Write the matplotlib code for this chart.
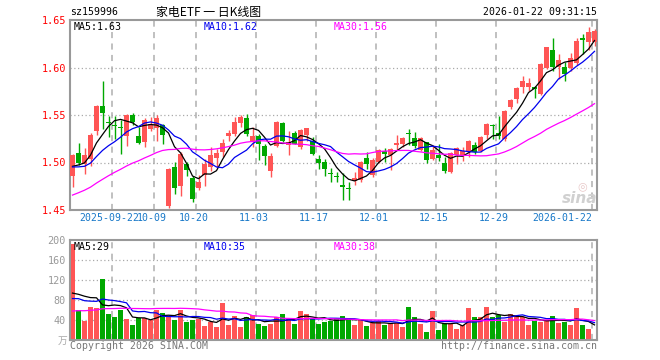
import numpy as np
import pandas as pd
import matplotlib
matplotlib.use("Agg")
import matplotlib.pyplot as plt
from matplotlib.transforms import blended_transform_factory

# ---------------- data ----------------
opens = [1.486, 1.510, 1.498, 1.504, 1.533, 1.559, 1.543, 1.539, 1.537, 1.528,
         1.550, 1.528, 1.522, 1.535, 1.536, 1.539, 1.454, 1.495, 1.475, 1.498,
         1.484, 1.473, 1.487, 1.495, 1.505, 1.511, 1.528, 1.530, 1.542, 1.547,
         1.522, 1.528, 1.517, 1.491, 1.517, 1.542, 1.518, 1.531, 1.516, 1.529,
         1.523, 1.504, 1.500, 1.489, 1.486, 1.476, 1.473, 1.481, 1.482, 1.505,
         1.487, 1.501, 1.512, 1.508, 1.518, 1.519, 1.531, 1.526, 1.513, 1.522,
         1.504, 1.508, 1.500, 1.490, 1.508, 1.508, 1.512, 1.518, 1.512, 1.529,
         1.540, 1.531, 1.525, 1.558, 1.567, 1.579, 1.580, 1.580, 1.572, 1.600,
         1.618, 1.601, 1.600, 1.600, 1.605, 1.631, 1.627, 1.627]
highs = [1.509, 1.521, 1.515, 1.531, 1.561, 1.586, 1.549, 1.549, 1.545, 1.551,
         1.552, 1.537, 1.547, 1.548, 1.550, 1.541, 1.494, 1.501, 1.511, 1.501,
         1.486, 1.487, 1.504, 1.516, 1.514, 1.525, 1.534, 1.548, 1.550, 1.551,
         1.537, 1.530, 1.520, 1.510, 1.544, 1.543, 1.533, 1.533, 1.535, 1.536,
         1.527, 1.508, 1.504, 1.494, 1.490, 1.489, 1.479, 1.490, 1.502, 1.511,
         1.505, 1.514, 1.515, 1.515, 1.529, 1.527, 1.535, 1.532, 1.527, 1.522,
         1.518, 1.519, 1.506, 1.511, 1.516, 1.516, 1.524, 1.522, 1.528, 1.542,
         1.541, 1.549, 1.555, 1.567, 1.579, 1.591, 1.589, 1.581, 1.605, 1.622,
         1.631, 1.614, 1.606, 1.615, 1.631, 1.635, 1.643, 1.641]
lows = [1.474, 1.497, 1.488, 1.496, 1.529, 1.535, 1.527, 1.525, 1.509, 1.517,
        1.540, 1.519, 1.516, 1.533, 1.523, 1.519, 1.452, 1.467, 1.465, 1.486,
        1.458, 1.471, 1.475, 1.491, 1.495, 1.506, 1.523, 1.528, 1.537, 1.528,
        1.516, 1.503, 1.497, 1.485, 1.516, 1.522, 1.508, 1.519, 1.514, 1.523,
        1.508, 1.493, 1.486, 1.479, 1.479, 1.461, 1.461, 1.476, 1.479, 1.493,
        1.485, 1.499, 1.501, 1.492, 1.513, 1.516, 1.518, 1.515, 1.512, 1.500,
        1.503, 1.502, 1.489, 1.489, 1.498, 1.502, 1.506, 1.509, 1.511, 1.525,
        1.525, 1.525, 1.523, 1.556, 1.563, 1.573, 1.575, 1.568, 1.571, 1.598,
        1.596, 1.588, 1.586, 1.596, 1.603, 1.614, 1.618, 1.623]
closes = [1.508, 1.499, 1.508, 1.529, 1.559, 1.552, 1.542, 1.538, 1.536, 1.550,
          1.543, 1.521, 1.545, 1.541, 1.547, 1.529, 1.493, 1.473, 1.509, 1.492,
          1.462, 1.479, 1.498, 1.508, 1.510, 1.521, 1.531, 1.543, 1.548, 1.530,
          1.528, 1.520, 1.507, 1.507, 1.543, 1.523, 1.522, 1.520, 1.534, 1.536,
          1.509, 1.500, 1.493, 1.488, 1.485, 1.474, 1.472, 1.484, 1.501, 1.498,
          1.503, 1.513, 1.509, 1.514, 1.521, 1.526, 1.530, 1.517, 1.526, 1.503,
          1.513, 1.505, 1.491, 1.510, 1.515, 1.512, 1.523, 1.511, 1.527, 1.541,
          1.538, 1.528, 1.554, 1.566, 1.578, 1.586, 1.584, 1.577, 1.604, 1.622,
          1.601, 1.608, 1.593, 1.610, 1.628, 1.629, 1.637, 1.638]
volumes = [193, 60, 39, 66, 64, 122, 52, 46, 60, 42,
           30, 44, 45, 41, 60, 54, 48, 41, 60, 37,
           40, 43, 29, 37, 27, 75, 30, 48, 26, 46,
           50, 33, 28, 32, 46, 52, 44, 33, 58, 52,
           43, 33, 37, 38, 45, 48, 40, 31, 40, 28,
           34, 38, 31, 34, 34, 27, 66, 46, 33, 17,
           58, 21, 34, 33, 23, 30, 64, 46, 46, 66,
           46, 50, 37, 52, 50, 46, 31, 38, 37, 40,
           48, 34, 37, 31, 64, 30, 23, 3]
# history before the first visible day (estimated from the moving-average curves)
prior_closes = [1.425, 1.428, 1.432, 1.430, 1.435, 1.428, 1.432, 1.440, 1.445, 1.452,
                1.448, 1.455, 1.460, 1.458, 1.462, 1.465, 1.468, 1.478, 1.485, 1.492,
                1.498, 1.502, 1.495, 1.490, 1.488, 1.492, 1.497, 1.488, 1.495]
prior_volumes = [40, 42, 38, 45, 50, 44, 41, 47, 43, 39, 48, 52, 46, 44, 50, 47, 45, 49,
                 46, 54, 62, 80, 75, 68, 75, 72, 58, 80, 66]

holidays = ["2025-10-01", "2025-10-02", "2025-10-03", "2025-10-06", "2025-10-07",
            "2025-10-08", "2026-01-01", "2026-01-02"]
dates = [d for d in pd.bdate_range("2025-09-11", "2026-01-22")
         if d.strftime("%Y-%m-%d") not in holidays]
date_keys = [d.strftime("%Y-%m-%d") for d in dates]

tick_dates = ["2025-09-22", "2025-10-09", "2025-10-20", "2025-11-03", "2025-11-17",
              "2025-12-01", "2025-12-15", "2025-12-29", "2026-01-22"]
tick_labels = ["2025-09-22", "10-09", "10-20", "11-03", "11-17",
               "12-01", "12-15", "12-29", "2026-01-22"]

price_ticks = [1.45, 1.50, 1.55, 1.60, 1.65]
vol_ticks = [40, 80, 120, 160, 200]

code = "sz159996"
title = "家电ETF 一 日K线图"
stamp = "2026-01-22 09:31:15"
ma_price_labels = ["MA5:1.63", "MA10:1.62", "MA30:1.56"]
ma_vol_labels = ["MA5:29", "MA10:35", "MA30:38"]

# ---------------- computations ----------------
n = len(closes)
x = np.arange(n)
all_c = pd.Series(prior_closes + closes)
all_v = pd.Series(prior_volumes + volumes)
k = len(prior_closes)
ma5 = all_c.rolling(5).mean().values[k:]
ma10 = all_c.rolling(10).mean().values[k:]
ma30 = all_c.rolling(30).mean().values[k:]
vma5 = all_v.rolling(5).mean().values[k:]
vma10 = all_v.rolling(10).mean().values[k:]
vma30 = all_v.rolling(30).mean().values[k:]

RED = "#FF5555"
GREEN = "#00A800"
o = np.array(opens); c = np.array(closes)
up = c >= o
cols = [RED if u else GREEN for u in up]

W, H = 660, 360
fig = plt.figure(figsize=(W / 100, H / 100), dpi=100)
fig.patch.set_facecolor("white")

def rect(l, t, r, b):
    return [l / W, 1 - b / H, (r - l) / W, (b - t) / H]

ax = fig.add_axes(rect(70, 20, 597, 210))
axv = fig.add_axes(rect(70, 240, 597, 340))

MONO = "DejaVu Sans Mono"
FS = 7.1
GRID = "#AAAAAA"
BORDER = "#999999"
xl = (-2.5 / 6, -2.5 / 6 + 527 / 6)

for a in (ax, axv):
    a.set_xlim(*xl)
    for s in a.spines.values():
        s.set_color(BORDER)
        s.set_linewidth(1.5)
    a.tick_params(length=0)
    a.set_xticks([])

# vertical dashed lines
tick_pos = [date_keys.index(d) - 0.42 for d in tick_dates]
for a in (ax, axv):
    for p in tick_pos:
        a.axvline(p, color="#AFAFAF", lw=1.1, ls=(0, (4, 3.5)), zorder=0)

# ---------- price panel ----------
ax.set_ylim(1.45, 1.65)
for yv in price_ticks[1:-1]:
    ax.axhline(yv, color=GRID, lw=0.9, ls=(0, (1, 2)), zorder=0)
ax.set_yticks(price_ticks)
ax.set_yticklabels([f"{v:.2f}" for v in price_ticks], color="red",
                   fontfamily=MONO, fontsize=7.3)
ax.tick_params(axis="y", pad=3)

bw = 5 / 6
ax.vlines(x, lows, highs, colors=cols, lw=1.0, zorder=2)
body_b = np.minimum(o, c)
body_h = np.maximum(np.abs(c - o), 0.0009)
ax.bar(x, body_h, bw, bottom=body_b, color=cols, zorder=3, linewidth=0)

ax.plot(x, ma5, color="black", lw=0.9, zorder=4)
ax.plot(x, ma10, color="#0000EE", lw=0.9, zorder=4)
ax.plot(x, ma30, color="#FF00FF", lw=0.9, zorder=4)

tr = blended_transform_factory(ax.transData, ax.transAxes)
for i, (p, lab) in enumerate(zip(tick_pos, tick_labels)):
    ha = "right" if i == len(tick_labels) - 1 else "center"
    xx = p + 0.1 if ha == "right" else p - 0.4
    ax.text(xx, -0.044, lab, transform=tr, ha=ha, va="center",
            color="#1878C8", fontfamily=MONO, fontsize=FS)

# ---------- volume panel ----------
axv.set_ylim(0, 200)
for yv in vol_ticks[:-1]:
    axv.axhline(yv, color=GRID, lw=0.9, ls=(0, (1, 2)), zorder=0)
axv.set_yticks(vol_ticks)
axv.set_yticklabels([str(v) for v in vol_ticks], color="#999999",
                    fontfamily=MONO, fontsize=7.3)
axv.tick_params(axis="y", pad=3)
axv.bar(x, volumes, bw, color=cols, linewidth=0, zorder=2)
axv.plot(x, vma5, color="black", lw=0.9, zorder=4)
axv.plot(x, vma10, color="#0000EE", lw=0.9, zorder=4)
axv.plot(x, vma30, color="#FF00FF", lw=0.9, zorder=4)

# ---------- texts ----------
def ftext(px, py, s, **kw):
    fig.text(px / W, 1 - py / H, s, **kw)

ftext(70, 12, code, ha="left", va="center", fontfamily=MONO, fontsize=FS, color="black")
ftext(209, 12, title, ha="center", va="center",
      fontfamily=["Noto Sans CJK SC", "DejaVu Sans"], fontsize=8.6, color="black")
ftext(597, 12, stamp, ha="right", va="center", fontfamily=MONO, fontsize=FS, color="black")

ma_cols = ["black", "#0000EE", "#FF00FF"]
ma_x = [74, 204, 334]
for lab, col, mx in zip(ma_price_labels, ma_cols, ma_x):
    ftext(mx, 27, lab, ha="left", va="center", fontfamily=MONO, fontsize=FS, color=col)
for lab, col, mx in zip(ma_vol_labels, ma_cols, ma_x):
    ftext(mx, 247, lab, ha="left", va="center", fontfamily=MONO, fontsize=FS, color=col)

ftext(67, 341, "万", ha="right", va="center",
      fontfamily=["Noto Sans CJK SC", "DejaVu Sans"], fontsize=7, color="#AAAAAA")
ftext(70, 346, "Copyright 2026 SINA.COM", ha="left", va="center",
      fontfamily=MONO, fontsize=FS, color="#777777")
ftext(597, 346, "http://finance.sina.com.cn", ha="right", va="center",
      fontfamily=MONO, fontsize=FS, color="#777777")

# sina watermark
ftext(580, 198, "sina", ha="center", va="center", fontfamily="DejaVu Sans",
      fontsize=11, fontweight="bold", fontstyle="italic", color="#D0D0D0")
ftext(582, 186, "◎", ha="center", va="center", fontfamily="DejaVu Sans",
      fontsize=8, color="#E8C8C8")

fig.savefig("out.png", dpi=100, facecolor="white")
